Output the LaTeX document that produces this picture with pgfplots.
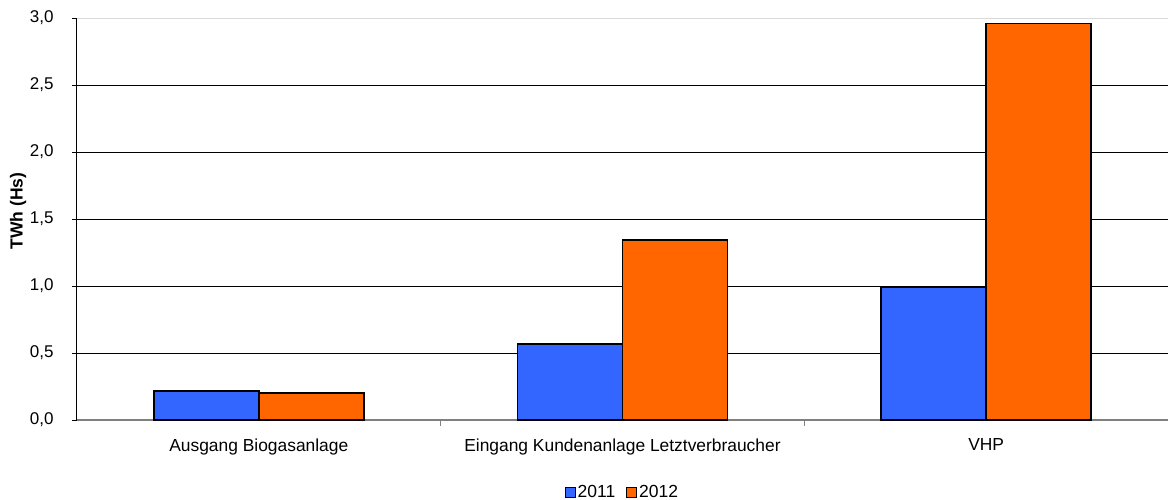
\documentclass[border=0pt]{standalone}
\usepackage{fontspec}
\setmainfont{Liberation Sans}
\usepackage{pgfplots}
\pgfplotsset{compat=1.18}
\definecolor{c2011}{HTML}{3366FF}
\definecolor{c2012}{HTML}{FF6600}
\begin{document}
\begin{tikzpicture}
\useasboundingbox (-77pt,-79pt) rectangle (1091pt,420pt);
\begin{axis}[
  at={(0pt,0pt)}, anchor=south west,
  scale only axis, width=1091pt, height=402pt,
  xmin=-0.5, xmax=2.5, ymin=0, ymax=3,
  ybar=0pt, bar width=105pt,
  axis x line*=bottom, axis y line*=left,
  axis line style={-},
  x axis line style={draw=gray, line width=1.6pt},
  y axis line style={draw=black, line width=1pt},
  xtick={0,1,2},
  xticklabels={Ausgang Biogasanlage, Eingang Kundenanlage Letztverbraucher, VHP},
  major x tick style={draw=none},
  extra x ticks={0.5,1.5},
  extra x tick labels={},
  extra x tick style={major x tick style={draw=gray, line width=1.5pt}, tick align=outside, major tick length=6pt},
  ytick={0,0.5,1,1.5,2,2.5},
  extra y ticks={3},
  extra y tick style={grid style={gray!30, line width=1pt}},
  ymajorgrids,
  grid style={black, line width=0.8pt},
  tick align=outside, major tick length=5pt,
  major y tick style={black, line width=0.8pt},
  yticklabel style={font=\fontsize{17pt}{20pt}\selectfont, xshift=-15pt},
  xticklabel style={font=\fontsize{17.4pt}{21pt}\selectfont, yshift=-10pt},
  /pgf/number format/.cd, use comma, fixed, fixed zerofill, precision=1, assume math mode=true,
  /pgfplots/.cd,
  ylabel={\textbf{TWh (Hs)}},
  ylabel style={at={(axis description cs:-0.054,0.52)}, anchor=center, font=\fontsize{17.5pt}{20pt}\selectfont},
  legend columns=2,
  legend style={draw=none, at={(axis description cs:0.5,-0.179)}, anchor=center,
    font=\fontsize{17.5pt}{20pt}\selectfont,
    /tikz/every even column/.append style={column sep=9pt}},
  legend image code/.code={\draw[#1, line width=0.8pt] (0pt,-5pt) rectangle (10pt,5pt);},
]
\addplot[fill=c2011, draw=black, line width=1.5pt] coordinates {(0,0.215) (1,0.567) (2,0.99)};
\addplot[fill=c2012, draw=black, line width=1.5pt] coordinates {(0,0.200) (1,1.345) (2,2.96)};
\legend{2011,2012}
\end{axis}
\end{tikzpicture}
\end{document}
